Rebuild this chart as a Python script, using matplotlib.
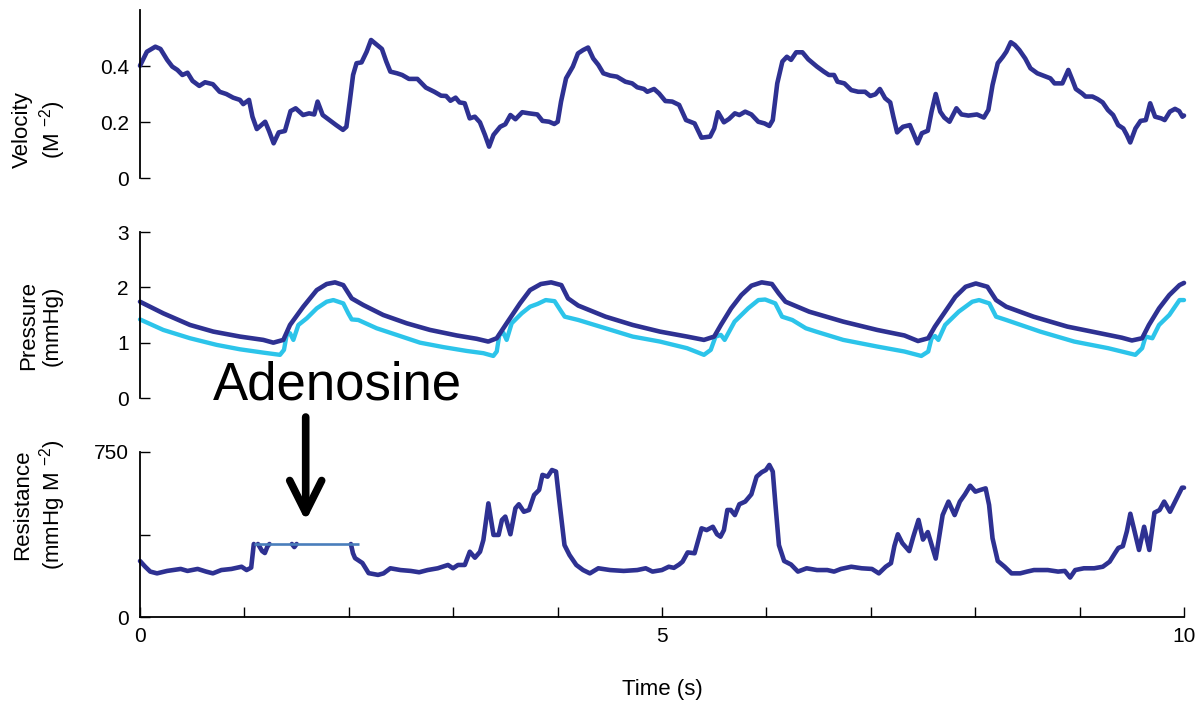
import matplotlib
matplotlib.use("Agg")
import matplotlib.pyplot as plt
from matplotlib.patches import FancyArrowPatch

plt.rcParams["font.family"] = ["Liberation Sans", "DejaVu Sans"]
plt.rcParams["mathtext.fontset"] = "custom"
plt.rcParams["mathtext.rm"] = "Liberation Sans"
plt.rcParams["mathtext.it"] = "Liberation Sans:italic"
plt.rcParams["mathtext.default"] = "regular"

NAN = float("nan")

# ---------------- data ----------------
vel_t = [0.0, 0.066, 0.147, 0.196, 0.260, 0.309, 0.358, 0.406, 0.455, 0.503,
         0.568, 0.623, 0.698, 0.763, 0.827, 0.892, 0.957, 0.989, 1.044, 1.077,
         1.119, 1.199, 1.238, 1.280, 1.329, 1.388, 1.442, 1.491, 1.562, 1.620,
         1.669, 1.701, 1.750, 1.815, 1.879, 1.944, 1.977, 2.009, 2.041, 2.074,
         2.122, 2.171, 2.213, 2.252, 2.317, 2.359, 2.398, 2.462, 2.511, 2.576,
         2.657, 2.738, 2.819, 2.884, 2.932, 2.974, 3.023, 3.061, 3.110, 3.158,
         3.207, 3.256, 3.304, 3.344, 3.386, 3.450, 3.499, 3.548, 3.596, 3.661,
         3.726, 3.806, 3.855, 3.919, 3.968, 4.001, 4.033, 4.081, 4.146, 4.195,
         4.244, 4.292, 4.341, 4.390, 4.438, 4.503, 4.568, 4.649, 4.714, 4.763,
         4.827, 4.859, 4.924, 4.972,
         5.032, 5.098, 5.164, 5.230, 5.312, 5.378, 5.461, 5.500, 5.536, 5.593,
         5.642, 5.698, 5.741, 5.797, 5.856, 5.922, 5.982, 6.028, 6.061, 6.104,
         6.153, 6.196, 6.236, 6.285, 6.345, 6.401, 6.484, 6.550, 6.599, 6.648,
         6.681, 6.747, 6.813, 6.879, 6.945, 6.995, 7.044, 7.087, 7.137, 7.186,
         7.216, 7.252, 7.308, 7.374, 7.414, 7.447, 7.489, 7.546, 7.582, 7.622,
         7.665, 7.704, 7.754, 7.820, 7.869, 7.935, 8.017, 8.083, 8.126, 8.166,
         8.216, 8.265, 8.298, 8.341, 8.380, 8.423, 8.479, 8.529, 8.595, 8.677,
         8.720, 8.760, 8.835, 8.892, 8.931, 8.964, 9.024, 9.057, 9.123, 9.172,
         9.221, 9.271, 9.321, 9.370, 9.419, 9.452, 9.485, 9.535, 9.584, 9.634,
         9.676, 9.723, 9.782, 9.815, 9.865, 9.914, 9.954, 9.985, 10.0]
vel_v = [0.402, 0.452, 0.470, 0.462, 0.423, 0.399, 0.387, 0.369, 0.377, 0.348,
         0.330, 0.343, 0.336, 0.309, 0.301, 0.288, 0.280, 0.265, 0.280, 0.220,
         0.176, 0.202, 0.167, 0.125, 0.164, 0.169, 0.240, 0.250, 0.226, 0.232,
         0.228, 0.274, 0.226, 0.208, 0.190, 0.173, 0.184, 0.274, 0.369, 0.411,
         0.414, 0.452, 0.494, 0.482, 0.462, 0.417, 0.381, 0.375, 0.369, 0.355,
         0.355, 0.324, 0.309, 0.295, 0.294, 0.277, 0.288, 0.271, 0.268, 0.214,
         0.220, 0.200, 0.155, 0.113, 0.155, 0.184, 0.193, 0.226, 0.211, 0.236,
         0.232, 0.228, 0.205, 0.202, 0.194, 0.202, 0.274, 0.357, 0.399, 0.446,
         0.458, 0.467, 0.428, 0.405, 0.375, 0.367, 0.363, 0.345, 0.339, 0.325,
         0.319, 0.309, 0.319, 0.303,
         0.276, 0.274, 0.262, 0.208, 0.196, 0.145, 0.149, 0.178, 0.236, 0.200,
         0.212, 0.232, 0.226, 0.238, 0.228, 0.202, 0.196, 0.187, 0.208, 0.339,
         0.417, 0.434, 0.423, 0.450, 0.450, 0.425, 0.399, 0.381, 0.369, 0.369,
         0.345, 0.339, 0.315, 0.309, 0.309, 0.294, 0.300, 0.319, 0.286, 0.271,
         0.220, 0.164, 0.184, 0.190, 0.155, 0.125, 0.161, 0.170, 0.238, 0.301,
         0.238, 0.217, 0.202, 0.250, 0.228, 0.224, 0.228, 0.217, 0.244, 0.333,
         0.411, 0.434, 0.452, 0.486, 0.476, 0.458, 0.428, 0.393, 0.375, 0.363,
         0.357, 0.339, 0.339, 0.387, 0.351, 0.319, 0.303, 0.292, 0.292, 0.283,
         0.271, 0.244, 0.226, 0.190, 0.178, 0.155, 0.128, 0.178, 0.205, 0.208,
         0.268, 0.220, 0.214, 0.208, 0.238, 0.248, 0.240, 0.220, 0.224]

# aortic (proximal) pressure
pa_t = [0.0, 0.223, 0.479, 0.702, 0.958, 1.181, 1.277, 1.373, 1.437, 1.564,
        1.693, 1.788, 1.868, 1.947, 2.028, 2.139, 2.330, 2.555, 2.778, 3.034,
        3.225, 3.336, 3.417, 3.512, 3.640, 3.736, 3.840, 3.938, 4.036, 4.100,
        4.198, 4.459, 4.719, 4.980, 5.240, 5.402, 5.500, 5.564, 5.662, 5.760,
        5.857, 5.955, 6.053, 6.118, 6.183, 6.410, 6.736, 7.061, 7.322, 7.452,
        7.550, 7.614, 7.712, 7.810, 7.908, 8.006, 8.117, 8.200, 8.297, 8.558,
        8.883, 9.144, 9.404, 9.501, 9.599, 9.664, 9.761, 9.859, 9.957, 10.0]
pa_p = [1.74, 1.53, 1.32, 1.20, 1.11, 1.05, 1.00, 1.05, 1.32, 1.65,
        1.95, 2.06, 2.09, 2.04, 1.80, 1.68, 1.50, 1.35, 1.23, 1.13,
        1.07, 1.02, 1.08, 1.35, 1.71, 1.95, 2.06, 2.09, 2.04, 1.80,
        1.67, 1.47, 1.32, 1.20, 1.11, 1.05, 1.11, 1.32, 1.62, 1.86,
        2.03, 2.09, 2.06, 1.89, 1.74, 1.56, 1.38, 1.23, 1.13, 1.03,
        1.08, 1.29, 1.56, 1.83, 2.01, 2.07, 2.01, 1.77, 1.65, 1.47,
        1.29, 1.19, 1.09, 1.04, 1.08, 1.32, 1.62, 1.86, 2.04, 2.08]

# distal pressure
pd_t = [0.0, 0.223, 0.479, 0.734, 0.958, 1.181, 1.341, 1.379, 1.405, 1.437,
        1.469, 1.517, 1.597, 1.693, 1.788, 1.852, 1.947, 1.995, 2.028, 2.091,
        2.267, 2.459, 2.682, 2.905, 3.130, 3.289, 3.384, 3.417, 3.442, 3.480,
        3.512, 3.560, 3.656, 3.736, 3.808, 3.886, 3.971, 4.036, 4.068, 4.198,
        4.459, 4.719, 4.980, 5.240, 5.402, 5.467, 5.513, 5.564, 5.600, 5.695,
        5.825, 5.923, 5.988, 6.085, 6.150, 6.248, 6.378, 6.476, 6.736, 7.061,
        7.322, 7.484, 7.550, 7.582, 7.615, 7.647, 7.712, 7.842, 7.972, 8.037,
        8.135, 8.200, 8.297, 8.623, 8.948, 9.274, 9.534, 9.599, 9.632, 9.697,
        9.761, 9.859, 9.957, 10.0]
pd_p = [1.42, 1.23, 1.08, 0.96, 0.88, 0.82, 0.78, 0.87, 1.14, 1.17,
        1.05, 1.32, 1.44, 1.62, 1.74, 1.77, 1.71, 1.53, 1.42, 1.41,
        1.26, 1.14, 1.00, 0.92, 0.85, 0.81, 0.76, 0.84, 1.14, 1.18,
        1.05, 1.35, 1.53, 1.65, 1.70, 1.77, 1.75, 1.56, 1.47, 1.41,
        1.26, 1.11, 1.02, 0.90, 0.78, 0.87, 1.11, 1.14, 1.05, 1.38,
        1.62, 1.77, 1.78, 1.71, 1.47, 1.41, 1.26, 1.20, 1.05, 0.93,
        0.84, 0.76, 0.84, 1.08, 1.12, 1.05, 1.32, 1.56, 1.74, 1.77,
        1.71, 1.47, 1.41, 1.20, 1.02, 0.90, 0.78, 0.90, 1.11, 1.08,
        1.32, 1.50, 1.77, 1.77]

# resistance; NaN gaps where the trace sits under the adenosine marker
res_t = [0.0, 0.050, 0.098, 0.163, 0.260, 0.390, 0.455, 0.552, 0.633, 0.698,
         0.779, 0.876, 0.973, 1.021, 1.065, 1.090, 1.100, 1.130, 1.170, 1.196,
         1.220, 1.240, 1.250, 1.455, 1.478, 1.500, 1.510, 2.020, 2.040, 2.060,
         2.130, 2.190, 2.280,
         2.333, 2.398, 2.495, 2.593, 2.674, 2.755, 2.852, 2.950, 2.998, 3.046,
         3.111, 3.159, 3.208, 3.257, 3.289, 3.337, 3.386, 3.435, 3.467, 3.499,
         3.548, 3.596, 3.629, 3.677, 3.726, 3.775, 3.823, 3.855, 3.904, 3.946,
         3.985, 4.017, 4.066, 4.114, 4.179, 4.244, 4.309, 4.390, 4.503, 4.633,
         4.763, 4.844, 4.909, 4.999, 5.065, 5.114, 5.164, 5.197, 5.246, 5.312,
         5.379, 5.428, 5.487, 5.527, 5.560, 5.593, 5.626, 5.659, 5.698, 5.741,
         5.797, 5.856, 5.906, 5.955, 5.995, 6.028, 6.061, 6.087, 6.120, 6.170,
         6.236, 6.302, 6.385, 6.484, 6.583, 6.648, 6.714, 6.813, 6.912, 7.011,
         7.077, 7.143, 7.193, 7.226, 7.259, 7.302, 7.368, 7.407, 7.457, 7.500,
         7.546, 7.589, 7.622, 7.655, 7.688, 7.744, 7.803, 7.853, 7.902, 7.952,
         8.002, 8.051, 8.100, 8.133, 8.166, 8.216, 8.282, 8.348, 8.431, 8.497,
         8.563, 8.695, 8.794, 8.859, 8.909, 8.958, 9.041, 9.140, 9.222, 9.288,
         9.338, 9.371, 9.414, 9.453, 9.486, 9.526, 9.569, 9.618, 9.668, 9.717,
         9.766, 9.810, 9.866, 9.915, 9.981, 10.0]
res_r = [255, 229, 207, 199, 210, 219, 210, 219, 207, 199,
         214, 219, 229, 214, 225, 332, NAN, 332, 300, 291,
         320, 332, NAN, 332, 318, 332, NAN, 332, 290, 268,
         246, 200, 192,
         199, 222, 214, 210, 204, 214, 222, 237, 222, 237,
         237, 297, 270, 297, 350, 516, 373, 373, 441, 456,
         376, 494, 512, 478, 486, 554, 577, 645, 637, 667,
         660, 524, 327, 282, 237, 214, 199, 222, 214, 210,
         214, 222, 207, 214, 229, 224, 239, 252, 294, 290,
         403, 395, 410, 376, 365, 395, 486, 486, 463, 512,
         524, 557, 637, 657, 667, 690, 660, 509, 327, 255,
         239, 207, 222, 214, 214, 207, 219, 229, 222, 219,
         199, 229, 245, 323, 376, 336, 300, 365, 441, 352,
         386, 318, 266, 365, 463, 524, 463, 524, 557, 596,
         569, 577, 584, 509, 358, 255, 229, 199, 199, 207,
         214, 214, 207, 210, 180, 214, 222, 222, 229, 252,
         290, 314, 322, 390, 469, 390, 305, 410, 305, 474,
         486, 524, 478, 524, 587, 587]

# adenosine infusion marker on the resistance trace
ado_t = [1.09, 2.10]
ado_r = [332, 332]

vel_ticks = [0, 0.2, 0.4]
vel_ticklabels = ["0", "0.2", "0.4"]
p_ticks = [0, 1, 2, 3]
r_ticks = [0, 375, 750]
r_ticklabels = ["0", "", "750"]
t_ticks = list(range(11))
t_ticklabels = ["0", "", "", "", "", "5", "", "", "", "", "10"]

# ---------------- styling ----------------
DARK = "#2e3192"
LIGHT = "#2cc4ea"
MARK = "#4a7ebb"
LW = 3.3
TICK_FS = 15
LABEL_FS = 16

W, H = 1203, 710
fig = plt.figure(figsize=(W / 100, H / 100), dpi=100)

left = 140 / W
width = 1044 / W
ax1 = fig.add_axes([left, 1 - 178.3 / H, width, 168 / H])
ax2 = fig.add_axes([left, 1 - 398 / H, width, 166 / H])
ax3 = fig.add_axes([left, 1 - 617.3 / H, width, 165.6 / H])

line_kw = dict(solid_joinstyle="round", solid_capstyle="round", clip_on=False)
ax1.plot(vel_t, vel_v, color=DARK, lw=LW, **line_kw)
ax2.plot(pd_t, pd_p, color=LIGHT, lw=LW * 0.95, **line_kw)
ax2.plot(pa_t, pa_p, color=DARK, lw=LW, **line_kw)
ax3.plot(res_t, res_r, color=DARK, lw=LW, **line_kw)
ax3.plot(ado_t, ado_r, color=MARK, lw=1.9, solid_capstyle="butt", zorder=3)

for ax in (ax1, ax2, ax3):
    ax.set_xlim(0, 10)
    ax.spines["top"].set_visible(False)
    ax.spines["right"].set_visible(False)
    ax.spines["left"].set_linewidth(1.3)
    ax.spines["bottom"].set_linewidth(1.3)
    ax.tick_params(axis="both", direction="in", length=7, width=1.0,
                   labelsize=TICK_FS, pad=8)
    ax.patch.set_visible(False)

for ax in (ax1, ax2):
    ax.spines["bottom"].set_visible(False)
    ax.set_xticks([])

ax1.set_ylim(0, 0.6)
ax1.set_yticks(vel_ticks)
ax1.set_yticklabels(vel_ticklabels)

ax2.set_ylim(0, 3)
ax2.set_yticks(p_ticks)

ax3.set_ylim(0, 750)
ax3.set_yticks(r_ticks)
ax3.set_yticklabels(r_ticklabels)
ax3.set_xticks(t_ticks)
ax3.set_xticklabels(t_ticklabels)
ax3.tick_params(axis="x", pad=7)
ax3.set_xlabel("Time (s)", fontsize=LABEL_FS)
ax3.xaxis.set_label_coords(0.5, -0.37)

ylabels = [
    (ax1, "Velocity\n(M $^{-2}$)", 0.29),
    (ax2, "Pressure\n(mmHg)", 0.434),
    (ax3, "Resistance\n(mmHg M $^{-2}$)", 0.678),
]
for ax, txt, yc in ylabels:
    ax.text(-0.0958, yc, txt, transform=ax.transAxes, rotation=90,
            ha="center", va="center", multialignment="center",
            fontsize=LABEL_FS, linespacing=1.15)

# adenosine annotation
fig.text(213 / W, 1 - 400 / H, "Adenosine", fontsize=38,
         ha="left", va="baseline")
fig.add_artist(FancyArrowPatch(
    (305.7 / W, 1 - 417 / H), (305.7 / W, 1 - 521 / H),
    transform=fig.transFigure,
    arrowstyle="->,head_length=2.3,head_width=1.15",
    mutation_scale=10, lw=5.5, color="black",
    capstyle="round", joinstyle="round", shrinkA=0, shrinkB=0))

fig.savefig("out.png", dpi=100)
